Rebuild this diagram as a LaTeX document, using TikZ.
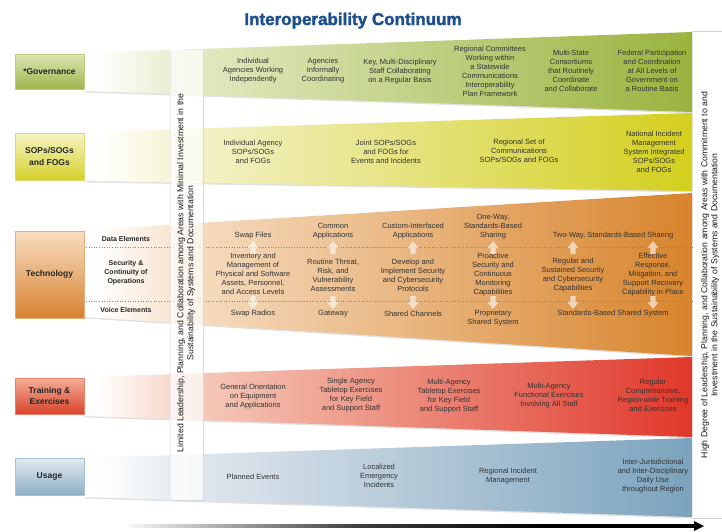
\documentclass[tikz,border=0pt]{standalone}
\usepackage{fontspec}
\setmainfont{Liberation Sans}
\newfontfamily\titlefont{Liberation Sans Bold}[FakeBold=2]
\usetikzlibrary{shadows}
\definecolor{titleblue}{HTML}{1D4F8F}
\definecolor{txtgray}{HTML}{333333}
\definecolor{dotcol}{HTML}{B5764A}
\definecolor{govL}{HTML}{E1E9C0}\definecolor{govD}{HTML}{9AB33E}
\definecolor{sopL}{HTML}{F3F1C6}\definecolor{sopD}{HTML}{D3CF1D}
\definecolor{tecL}{HTML}{F5DBBE}\definecolor{tecD}{HTML}{D8842C}
\definecolor{trnL}{HTML}{F5C9B8}\definecolor{trnD}{HTML}{E0372A}
\definecolor{usgL}{HTML}{DFE6ED}\definecolor{usgD}{HTML}{7BA3BD}
\definecolor{govT}{HTML}{DCE6B4}\definecolor{govB}{HTML}{9FB54C}\definecolor{govE}{HTML}{BCCD80}
\definecolor{sopT}{HTML}{F6F4C4}\definecolor{sopB}{HTML}{D5D12B}\definecolor{sopE}{HTML}{DDDA70}
\definecolor{tecT}{HTML}{F8DEC2}\definecolor{tecB}{HTML}{D88230}\definecolor{tecE}{HTML}{E2AE7A}
\definecolor{trnT}{HTML}{F5AE96}\definecolor{trnB}{HTML}{D9432C}\definecolor{trnE}{HTML}{E8806A}
\definecolor{usgT}{HTML}{E3EAF0}\definecolor{usgB}{HTML}{8DAFC5}\definecolor{usgE}{HTML}{A9C2D3}
\pgfdeclarehorizontalshading{govsh}{100bp}{color(0bp)=(white); color(26bp)=(white); color(34.5bp)=(govL); color(75bp)=(govD); color(100bp)=(govD)}
\pgfdeclarehorizontalshading{sopsh}{100bp}{color(0bp)=(white); color(26bp)=(white); color(34.5bp)=(sopL); color(75bp)=(sopD); color(100bp)=(sopD)}
\pgfdeclarehorizontalshading{tecsh}{100bp}{color(0bp)=(white); color(26bp)=(white); color(34.5bp)=(tecL); color(75bp)=(tecD); color(100bp)=(tecD)}
\pgfdeclarehorizontalshading{trnsh}{100bp}{color(0bp)=(white); color(26bp)=(white); color(34.5bp)=(trnL); color(75bp)=(trnD); color(100bp)=(trnD)}
\pgfdeclarehorizontalshading{usgsh}{100bp}{color(0bp)=(white); color(26bp)=(white); color(34.5bp)=(usgL); color(75bp)=(usgD); color(100bp)=(usgD)}
\pgfdeclarehorizontalshading{arrowsh}{100bp}{color(0bp)=(black!4); color(25bp)=(black!4); color(45bp)=(black!75); color(62bp)=(black); color(100bp)=(black)}
\newcommand\mybandshape[5]{%
  \fill[black!12] (84.5,#2+1.4) -- (692.5,#4+1.4) -- (692.5,#5+1.4) -- (84.5,#3+1.4) -- cycle;
  \shade[shading=#1] (84,#2) -- (692,#4) -- (692,#5) -- (84,#3) -- cycle;}
\begin{document}
\begin{tikzpicture}[x=1pt,y=-1pt,
  bandtext/.style={font=\fontsize{7.5}{9}\selectfont, align=center, text=txtgray, inner sep=0pt},
  labelbox/.style n args={3}{rectangle, draw=#3, line width=0.7pt, top color=#1, bottom color=#2,
     font=\fontsize{8.5}{11.5}\selectfont\bfseries, text=black!85, align=center, inner sep=0pt,
     minimum width=69pt, drop shadow={shadow xshift=1pt, shadow yshift=-1pt, opacity=.22}},
  sublabel/.style={font=\fontsize{7}{9}\selectfont\bfseries, text=black!85, align=center, inner sep=0pt},
  vtext/.style={font=\fontsize{8.7}{10}\selectfont, text=black!90, align=center, inner sep=0pt, rotate=90},
  dotline/.style={dotcol, line width=0.6pt, dash pattern=on 1pt off 1.6pt},
  uparrowpic/.pic={\fill[white,opacity=.6] (-2.6,6) -- (-2.6,0) -- (-5.5,0) -- (0,-7) -- (5.5,0) -- (2.6,0) -- (2.6,6) -- cycle;},
  downarrowpic/.pic={\fill[white,opacity=.6] (-2.6,-6) -- (-2.6,0) -- (-5.5,0) -- (0,7) -- (5.5,0) -- (2.6,0) -- (2.6,-6) -- cycle;}
]
\useasboundingbox (0,0) rectangle (722,531);
\fill[white] (0,0) rectangle (722,531);

% title
\node[font=\titlefont\fontsize{17}{20}\selectfont, text=titleblue, anchor=base, inner sep=0pt] (title) at (353,25) {Interoperability Continuum};

% bands
\mybandshape{govsh}{53}{91}{32}{112}
\mybandshape{sopsh}{132}{181}{113}{191}
\mybandshape{tecsh}{230}{317}{193}{356}
\mybandshape{trnsh}{377}{416}{357}{437}
\mybandshape{usgsh}{458}{497}{438}{517}

% right panel edges
\draw[black!18, line width=1pt] (692,31) -- (722,31);
\draw[black!18, line width=1.2pt] (692,518.5) -- (722,518.5);

% label boxes
\node[labelbox={govT}{govB}{govE}, minimum height=35pt] (lgov) at (49.5,71.5) {*Governance};
\node[labelbox={sopT}{sopB}{sopE}, minimum height=47pt] (lsop) at (49.5,156.5) {SOPs/SOGs\\and FOGs};
\node[labelbox={tecT}{tecB}{tecE}, minimum height=87pt] (ltec) at (49.5,274.5) {Technology};
\node[labelbox={trnT}{trnB}{trnE}, minimum height=36pt] (ltrn) at (49.5,396) {Training \&\\Exercises};
\node[labelbox={usgT}{usgB}{usgE}, minimum height=37pt] (lusg) at (49.5,476.5) {Usage};

% technology sub-rows
\draw[dotline] (86,247) -- (692,247);
\draw[dotline] (86,301) -- (692,301);
\node[sublabel] (sdata) at (126,239) {Data Elements};
\node[sublabel] (ssec) at (126,273) {Security \&\\Continuity of\\Operations};
\node[sublabel] (svoice) at (126,310) {Voice Elements};

\foreach \ax in {253,333,413,493,573,653}{
  \pic at (\ax,248) {uparrowpic};
  \pic at (\ax,302) {downarrowpic};
}

% governance
\node[bandtext] (g1) at (253,71) {Individual\\Agencies Working\\Independently};
\node[bandtext] (g2) at (323,71) {Agencies\\Informally\\Coordinating};
\node[bandtext] (g3) at (400,72) {Key, Multi-Disciplinary\\Staff Collaborating\\on a Regular Basis};
\node[bandtext] (g4) at (490,71.5) {Regional Committees\\Working within\\a Statewide\\Communications\\Interoperability\\Plan Framework};
\node[bandtext] (g5) at (571,71) {Multi-State\\Consortiums\\that Routinely\\Coordinate\\and Collaborate};
\node[bandtext] (g6) at (652,71) {Federal Participation\\and Coordination\\at All Levels of\\Government on\\a Routine Basis};

% SOPs
\node[bandtext] (s1) at (253,152) {Individual Agency\\SOPs/SOGs\\and FOGs};
\node[bandtext] (s2) at (386,152) {Joint SOPs/SOGs\\and FOGs for\\Events and Incidents};
\node[bandtext] (s3) at (519,151) {Regional Set of\\Communications\\SOPs/SOGs and FOGs};
\node[bandtext] (s4) at (654,152) {National Incident\\Management\\System Integrated\\SOPs/SOGs\\and FOGs};

% technology - data
\node[bandtext] (d1) at (253,236) {Swap Files};
\node[bandtext] (d2) at (333,231) {Common\\Applications};
\node[bandtext] (d3) at (413,231) {Custom-Interfaced\\Applications};
\node[bandtext] (d4) at (493,227) {One-Way,\\Standards-Based\\Sharing};
\node[bandtext] (d5) at (613,236) {Two-Way, Standards-Based Sharing};
% technology - security
\node[bandtext] (c1) at (253,274) {Inventory and\\Management of\\Physical and Software\\Assets, Personnel,\\and Access Levels};
\node[bandtext] (c2) at (333,275) {Routine Threat,\\Risk, and\\Vulnerability\\Assessments};
\node[bandtext] (c3) at (413,275) {Develop and\\Implement Security\\and Cybersecurity\\Protocols};
\node[bandtext] (c4) at (493,275) {Proactive\\Security and\\Continuous\\Monitoring\\Capabilities};
\node[bandtext] (c5) at (573,275) {Regular and\\Sustained Security\\and Cybersecurity\\Capabilities};
\node[bandtext] (c6) at (653,275) {Effective\\Response,\\Mitigation, and\\Support Recovery\\Capability in Place};
% technology - voice
\node[bandtext] (v1) at (253,314) {Swap Radios};
\node[bandtext] (v2) at (333,314) {Gateway};
\node[bandtext] (v3) at (413,314) {Shared Channels};
\node[bandtext] (v4) at (493,318.5) {Proprietary\\Shared System};
\node[bandtext] (v5) at (613,314) {Standards-Based Shared System};

% training
\node[bandtext] (t1) at (253,397) {General Orientation\\on Equipment\\and Applications};
\node[bandtext] (t2) at (351,395.5) {Single Agency\\Tabletop Exercises\\for Key Field\\and Support Staff};
\node[bandtext] (t3) at (449,396) {Multi-Agency\\Tabletop Exercises\\for Key Field\\and Support Staff};
\node[bandtext] (t4) at (549,396) {Multi-Agency\\Functional Exercises\\Involving All Staff};
\node[bandtext] (t5) at (653,395.5) {Regular\\Comprehensive,\\Region-wide Training\\and Exercises};

% usage
\node[bandtext] (u1) at (253,477) {Planned Events};
\node[bandtext] (u2) at (379,476) {Localized\\Emergency\\Incidents};
\node[bandtext] (u3) at (508,476.5) {Regional Incident\\Management};
\node[bandtext] (u4) at (653,476.5) {Inter-Jurisdictional\\and Inter-Disciplinary\\Daily Use\\throughout Region};

% left translucent strip
\fill[white, opacity=.72] (170,50) rectangle (203,500);
\draw[black!15, line width=0.8pt] (203.5,50) -- (203.5,500.5) -- (170,500.5);
\draw[black!8, line width=0.5pt] (170,50) -- (170,500);
\node[vtext] (ltext) at (186,273) {Limited Leadership, Planning, and Collaboration among Areas with Minimal Investment in the\\Sustainability of Systems and Documentation};
\node[vtext] (rtext) at (710,275) {High Degree of Leadership, Planning, and Collaboration among Areas with Commitment to and\\Investment in the Sustainability of Systems and Documentation};

% bottom arrow
\coordinate (astart) at (130,526);
\coordinate (aend) at (694,526);
\shade[shading=arrowsh] ([yshift=1.7pt]astart) rectangle ([yshift=-1.7pt]aend);
\fill[black] ([yshift=5pt]aend) -- ++(10,5) -- ([yshift=-5pt]aend) -- cycle;
\end{tikzpicture}
\end{document}
